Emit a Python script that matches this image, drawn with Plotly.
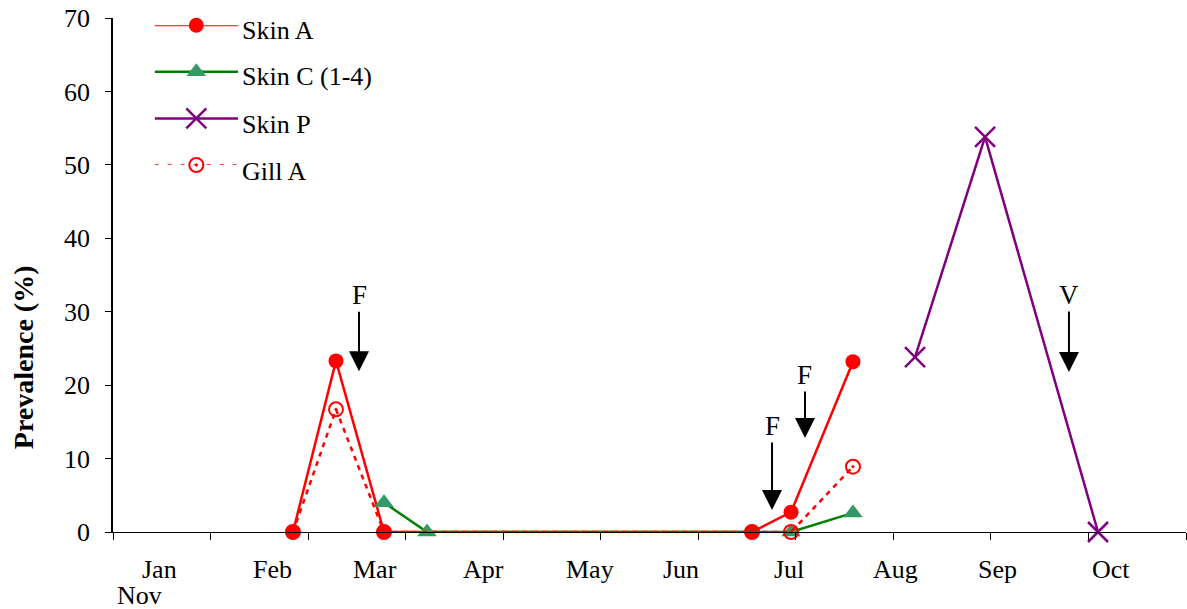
import plotly.graph_objects as go

# Sampling positions on the month axis (axis units, one unit per tick interval)
skin_a_x = [1.845, 2.286, 2.778, 6.551, 6.951, 7.586]
skin_a_y = [0.0, 23.3, 0.0, 0.0, 2.7, 23.2]

skin_c_x = [2.778, 3.219, 6.951, 7.586]
skin_c_y = [4.0, 0.0, 0.0, 2.6]

skin_p_x = [8.222, 8.940, 10.098]
skin_p_y = [23.8, 53.8, 0.0]

gill_a_x = [1.845, 2.286, 2.778, 6.551, 6.951, 7.586]
gill_a_y = [0.0, 16.7, 0.0, 0.0, 0.0, 8.9]

series_names = ["Skin A", "Skin C (1-4)", "Skin P", "Gill A"]

month_labels = ["Jan", "Feb", "Mar", "Apr", "May", "Jun", "Jul", "Aug", "Sep", "Oct"]
month_label_pos = [0.48, 1.63, 2.69, 3.80, 4.89, 5.82, 6.93, 8.02, 9.07, 10.23]

# Event markers: (label, axis position, prevalence level of arrow tip, text offset px)
event_labels = ["F", "F", "F", "V"]
event_x = [2.522, 6.756, 7.094, 9.80]
event_y = [21.9, 3.0, 12.8, 21.8]
event_offset = [-76, -84, -63, -77]

FONT = "Liberation Serif, Times New Roman, serif"
RED = "#FF0000"
GREEN_LINE = "#008000"
GREEN_MARK = "#339966"
PURPLE = "#800080"

fig = go.Figure()

fig.add_trace(go.Scatter(
    x=skin_a_x, y=skin_a_y, mode="lines+markers", name=series_names[0],
    line=dict(color=RED, width=2.5),
    marker=dict(symbol="circle", size=15, color=RED),
    cliponaxis=False, showlegend=False))

fig.add_trace(go.Scatter(
    x=skin_c_x, y=skin_c_y, mode="lines+markers", name=series_names[1],
    line=dict(color=GREEN_LINE, width=2.5),
    marker=dict(symbol="triangle-up", size=17, color=GREEN_MARK),
    cliponaxis=False, showlegend=False))

fig.add_trace(go.Scatter(
    x=skin_p_x, y=skin_p_y, mode="lines+markers", name=series_names[2],
    line=dict(color=PURPLE, width=2.5),
    marker=dict(symbol="x-thin-open", size=20, color=PURPLE,
                line=dict(color=PURPLE, width=2.5)),
    cliponaxis=False, showlegend=False))

fig.add_trace(go.Scatter(
    x=gill_a_x, y=gill_a_y, mode="lines+markers", name=series_names[3],
    line=dict(color=RED, width=2.5, dash="5px,5px"),
    marker=dict(symbol="circle-open-dot", size=14, color=RED,
                line=dict(color=RED, width=2)),
    cliponaxis=False, showlegend=False))

# Hand-built legend on a hidden overlay axis so the sample lines can be long
legend_styles = [
    dict(line=dict(color=RED, width=2),
         marker=dict(symbol="circle", size=15, color=RED)),
    dict(line=dict(color=GREEN_LINE, width=2.5),
         marker=dict(symbol="triangle-up", size=17, color=GREEN_MARK)),
    dict(line=dict(color=PURPLE, width=2.5),
         marker=dict(symbol="x-thin-open", size=20, color=PURPLE,
                     line=dict(color=PURPLE, width=2.5))),
    dict(line=dict(color=RED, width=1.5, dash="4px,9px"),
         marker=dict(symbol="circle-open-dot", size=14, color=RED,
                     line=dict(color=RED, width=2))),
]
legend_rows_paper = [0.9864, 0.8969, 0.8054, 0.7140]
n_rows = len(series_names)
for i, (name, st) in enumerate(zip(series_names, legend_styles)):
    row = n_rows - 1 - i
    fig.add_trace(go.Scatter(
        x=[0, 1], y=[row, row], mode="lines", line=st["line"],
        xaxis="x3", yaxis="y3", showlegend=False, hoverinfo="skip",
        cliponaxis=False))
    fig.add_trace(go.Scatter(
        x=[0.5], y=[row], mode="markers", marker=st["marker"],
        xaxis="x3", yaxis="y3", showlegend=False, hoverinfo="skip",
        cliponaxis=False))
    fig.add_annotation(
        x=0.1185, y=legend_rows_paper[i], xref="paper", yref="paper",
        text=name, showarrow=False, xanchor="left", yanchor="middle",
        yshift=-6, font=dict(family=FONT, size=26, color="black"))

# Month labels along the bottom
for lab, pos in zip(month_labels, month_label_pos):
    fig.add_annotation(
        x=pos, y=-0.072, xref="x", yref="paper", text=lab, showarrow=False,
        xanchor="center", yanchor="middle",
        font=dict(family=FONT, size=26, color="black"))
fig.add_annotation(
    x=0.27, y=-0.1245, xref="x", yref="paper", text="Nov", showarrow=False,
    xanchor="center", yanchor="middle",
    font=dict(family=FONT, size=26, color="black"))

# Event arrows
for lab, ex, ey, off in zip(event_labels, event_x, event_y, event_offset):
    fig.add_annotation(
        x=ex, y=ey, xref="x", yref="y", text=lab, showarrow=True,
        ax=0, ay=off, arrowhead=2, arrowsize=2, arrowwidth=2,
        arrowcolor="black",
        font=dict(family=FONT, size=27, color="black"))

# Y-axis title
fig.add_annotation(
    x=-0.0839, y=0.34, xref="paper", yref="paper", text="<b>Prevalence (%)</b>",
    textangle=-90, showarrow=False, xanchor="center", yanchor="middle",
    font=dict(family=FONT, size=28, color="black"))

fig.update_layout(
    width=1187, height=609,
    margin=dict(l=113, r=1, t=18, b=77),
    paper_bgcolor="white", plot_bgcolor="white",
    font=dict(family=FONT, size=26, color="black"),
    xaxis=dict(range=[0, 11], tickmode="array", tickvals=list(range(12)),
               showticklabels=False, ticks="outside", ticklen=7,
               tickcolor="black", tickwidth=1, showline=True,
               linecolor="black", linewidth=1, showgrid=False,
               zeroline=False, fixedrange=True),
    yaxis=dict(range=[0, 70], dtick=10, ticks="outside", ticklen=6,
               tickcolor="black", tickwidth=1, showline=True,
               linecolor="black", linewidth=1.5, showgrid=False,
               zeroline=False, ticklabelstandoff=10,
               tickfont=dict(family=FONT, size=26, color="black")),
    xaxis3=dict(domain=[0.0388, 0.1165], range=[0, 1], visible=False,
                anchor="y3"),
    yaxis3=dict(domain=[0.714, 0.986], range=[0, 3], visible=False,
                anchor="x3"),
)

fig.write_html("out.html")
